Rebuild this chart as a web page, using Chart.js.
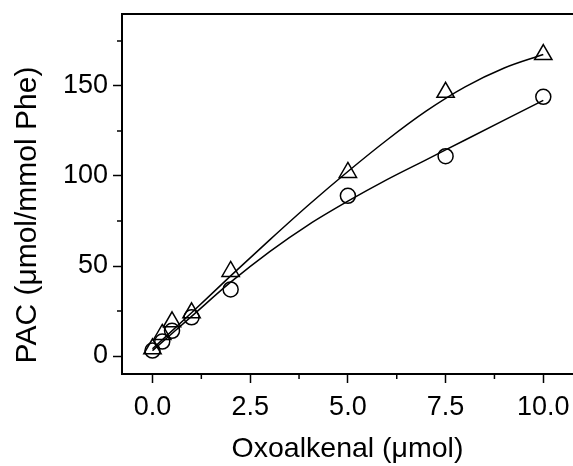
<!DOCTYPE html>
<html>
<head>
<meta charset="utf-8">
<script src="https://cdn.jsdelivr.net/npm/chart.js@4.4.1/dist/chart.umd.min.js"></script>
<style>
  html, body { margin: 0; padding: 0; background: #fff; }
  canvas { display: block; }
</style>
</head>
<body>
<canvas id="chart" width="573" height="466"></canvas>
<script>
// measured points
const doses = [0, 0.25, 0.5, 1, 2, 5, 7.5, 10];
const pacTriangle = [4, 12, 19, 24, 47, 102, 146.5, 167.5];
const pacCircle = [3, 8, 14, 21.5, 37, 89, 111, 144];

// fitted curves
const fitX = [0, 1, 2, 3, 4, 5, 6, 7, 8, 9, 10];
const fitTriangle = [4, 24, 44.5, 64.5, 84, 102.5, 120, 136, 149.5, 160, 167.5];
const fitCircle = [3, 22, 41, 58, 73, 86, 98, 109, 120, 131, 142];

const xTicks = [0, 2.5, 5, 7.5, 10];
const xMinorTicks = [1.25, 3.75, 6.25, 8.75];
const yTicks = [0, 50, 100, 150];
const yMinorTicks = [25, 75, 125, 175];

const xTitle = 'Oxoalkenal (\u03bcmol)';
const yTitle = 'PAC (\u03bcmol/mmol Phe)';

const pairs = (xs, ys) => xs.map((x, i) => ({ x: x, y: ys[i] }));

const frame = {
    id: 'frame',
    afterDraw(chart) {
        const ctx = chart.ctx;
        const area = chart.chartArea;
        const xs = chart.scales.x;
        const ys = chart.scales.y;
        ctx.save();
        ctx.strokeStyle = '#000';
        ctx.lineWidth = 2;
        ctx.beginPath();
        ctx.moveTo(area.left - 1, area.top);
        ctx.lineTo(area.right, area.top);
        ctx.stroke();
        ctx.lineWidth = 1.5;
        xMinorTicks.forEach(v => {
            const px = xs.getPixelForValue(v);
            ctx.beginPath();
            ctx.moveTo(px, area.bottom);
            ctx.lineTo(px, area.bottom + 5);
            ctx.stroke();
        });
        yMinorTicks.forEach(v => {
            const py = ys.getPixelForValue(v);
            ctx.beginPath();
            ctx.moveTo(area.left - 5, py);
            ctx.lineTo(area.left, py);
            ctx.stroke();
        });
        ctx.fillStyle = '#000';
        ctx.font = '30px "Liberation Sans", Arial, sans-serif';
        ctx.textAlign = 'center';
        ctx.textBaseline = 'middle';
        ctx.translate(28, 215);
        ctx.rotate(-Math.PI / 2);
        ctx.fillText(yTitle, 0, 0);
        ctx.restore();
    }
};

new Chart(document.getElementById('chart'), {
    type: 'scatter',
    data: {
        datasets: [
            {
                label: 'fit triangle',
                data: pairs(fitX, fitTriangle),
                showLine: true,
                borderColor: '#000',
                borderWidth: 1.5,
                pointRadius: 0,
                cubicInterpolationMode: 'monotone'
            },
            {
                label: 'fit circle',
                data: pairs(fitX, fitCircle),
                showLine: true,
                borderColor: '#000',
                borderWidth: 1.5,
                pointRadius: 0,
                cubicInterpolationMode: 'monotone'
            },
            {
                label: 'triangle',
                data: pairs(doses, pacTriangle),
                pointStyle: 'triangle',
                pointRadius: 10,
                borderColor: '#000',
                borderWidth: 1.5,
                backgroundColor: 'rgba(0,0,0,0)'
            },
            {
                label: 'circle',
                data: pairs(doses, pacCircle),
                pointStyle: 'circle',
                pointRadius: 7.5,
                borderColor: '#000',
                borderWidth: 1.5,
                backgroundColor: 'rgba(0,0,0,0)'
            }
        ]
    },
    options: {
        responsive: false,
        animation: false,
        layout: { autoPadding: false, padding: { top: 14, right: 0, left: 0, bottom: 0 } },
        plugins: {
            legend: { display: false },
            tooltip: { enabled: false }
        },
        scales: {
            x: {
                type: 'linear',
                min: -0.78,
                max: 10.76,
                afterBuildTicks: s => { s.ticks = xTicks.map(v => ({ value: v })); },
                afterFit: s => { s.height = 92; s.paddingLeft = 0; s.paddingRight = 0; },
                border: { display: true, color: '#000', width: 2 },
                grid: { drawOnChartArea: false, tickLength: 9, tickColor: '#000', tickWidth: 1.5 },
                ticks: {
                    color: '#000',
                    padding: 8,
                    maxRotation: 0,
                    font: { family: '"Liberation Sans", Arial', size: 27 },
                    callback: v => v.toFixed(1)
                },
                title: {
                    display: true,
                    text: xTitle,
                    color: '#000',
                    padding: { top: 0, bottom: 0 },
                    font: { family: '"Liberation Sans", Arial', size: 28.5 }
                }
            },
            y: {
                min: -10,
                max: 190,
                afterBuildTicks: s => { s.ticks = yTicks.map(v => ({ value: v })); },
                afterFit: s => { s.width = 122; s.paddingTop = 0; s.paddingBottom = 0; },
                border: { display: true, color: '#000', width: 2 },
                grid: { drawOnChartArea: false, tickLength: 9, tickColor: '#000', tickWidth: 1.5 },
                ticks: {
                    color: '#000',
                    padding: 5,
                    font: { family: '"Liberation Sans", Arial', size: 27 }
                }
            }
        }
    },
    plugins: [frame]
});
</script>
</body>
</html>
